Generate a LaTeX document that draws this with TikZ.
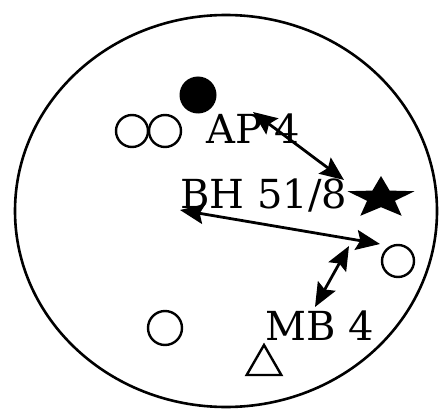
\documentclass[tikz,border=0pt]{standalone}
\usepackage{fontspec}
\setmainfont{DejaVu Serif}
\usetikzlibrary{arrows.meta,shapes.geometric}

\begin{document}
\begin{tikzpicture}[
  x=1pt, y=-1pt,
  every node/.style={font=\fontsize{40}{48}\selectfont,inner sep=0pt},
  opencirc/.style={draw,circle,line width=2.4pt,minimum size=32pt},
  fullcirc/.style={fill,circle,minimum size=37pt},
  link/.style={{Stealth[length=24pt,width=20pt,inset=4pt]}-{Stealth[length=24pt,width=20pt,inset=4pt]},line width=2.8pt},
]
  \useasboundingbox (0,0) rectangle (441,409);

  % Outer boundary
  \draw[line width=2.6pt] (226,211) ellipse [x radius=211, y radius=196];

  % Markers
  \node[fullcirc] (dot) at (198,95) {};
  \node[opencirc] (ringa) at (132,131) {};
  \node[opencirc] (ringb) at (165,131) {};
  \node[opencirc] (ringc) at (398,261) {};
  \node[opencirc,minimum size=34pt] (ringd) at (165,328) {};
  \node[star,star points=5,star point ratio=2.4,fill,minimum size=44pt,xscale=1.6] (star) at (381,198) {};
  \node[regular polygon,regular polygon sides=3,draw,line width=2.4pt,minimum size=40pt] (tri) at (264,365) {};

  % Labels
  \node[anchor=base west] (ap) at (206,143) {AP 4};
  \node[anchor=base west] (bh) at (180,208) {BH 51/8};
  \node[anchor=base west] (mb) at (265,340) {MB 4};

  % Connector ends
  \coordinate (apend) at (253,112);
  \coordinate (bhtop) at (344,180);
  \coordinate (bhleft) at (180,210);
  \coordinate (ringend) at (380,244);
  \coordinate (ringlow) at (349,246);
  \coordinate (mbtop) at (315,307);

  \draw[link] (apend) -- (bhtop);
  \draw[link] (bhleft) -- (ringend);
  \draw[link] (ringlow) -- (mbtop);
\end{tikzpicture}
\end{document}
